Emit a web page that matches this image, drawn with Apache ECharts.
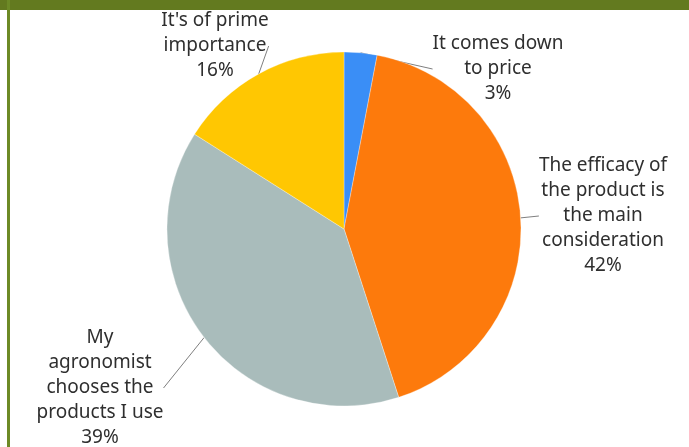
<!DOCTYPE html>
<html>
<head>
<meta charset="utf-8">
<script src="https://cdn.jsdelivr.net/npm/echarts@6/dist/echarts.min.js"></script>
<style>
html,body{margin:0;padding:0;background:#fff;}
#c{width:689px;height:447px;}
</style>
</head>
<body>
<div id="c"></div>
<script>
var categories = [
  "It comes down\nto price",
  "The efficacy of\nthe product is\nthe main\nconsideration",
  "My\nagronomist\nchooses the\nproducts I use",
  "It's of prime\nimportance"
];
var values = [3, 42, 39, 16];
var colors = ["#3a8ef6", "#fd7a0c", "#a9bcbb", "#ffc702"];
// label block centres (layout only)
var labelPos = [[498, 69], [603, 216], [100, 388], [215, 46]];

var chart = echarts.init(document.getElementById('c'));
chart.setOption({
  animation: false,
  backgroundColor: '#ffffff',
  graphic: [
    {type: 'rect', shape: {x: 0, y: 0, width: 689, height: 10}, style: {fill: '#637a1f'}},
    {type: 'rect', shape: {x: 7, y: 0, width: 3, height: 447}, style: {fill: '#6d8a26'}}
  ],
  series: [{
    type: 'pie',
    center: [344, 229],
    radius: 177,
    startAngle: 90,
    clockwise: true,
    data: categories.map(function (c, i) {
      return {name: c, value: values[i], itemStyle: {color: colors[i]}};
    }),
    itemStyle: {borderColor: 'rgba(255,255,255,0.6)', borderWidth: 0.5},
    label: {
      show: true,
      position: 'outside',
      formatter: function (p) { return p.name + '\n' + p.value + '%'; },
      fontFamily: 'Noto Sans',
      fontSize: 19,
      lineHeight: 25,
      color: '#2f2f2f',
      align: 'center'
    },
    labelLine: {show: true, length: 10, length2: 0, lineStyle: {color: '#7f7f7f', width: 1}},
    labelLayout: function (params) {
      var p = labelPos[params.dataIndex];
      return {x: p[0], y: p[1], align: 'center', verticalAlign: 'middle'};
    }
  }]
});
</script>
</body>
</html>
